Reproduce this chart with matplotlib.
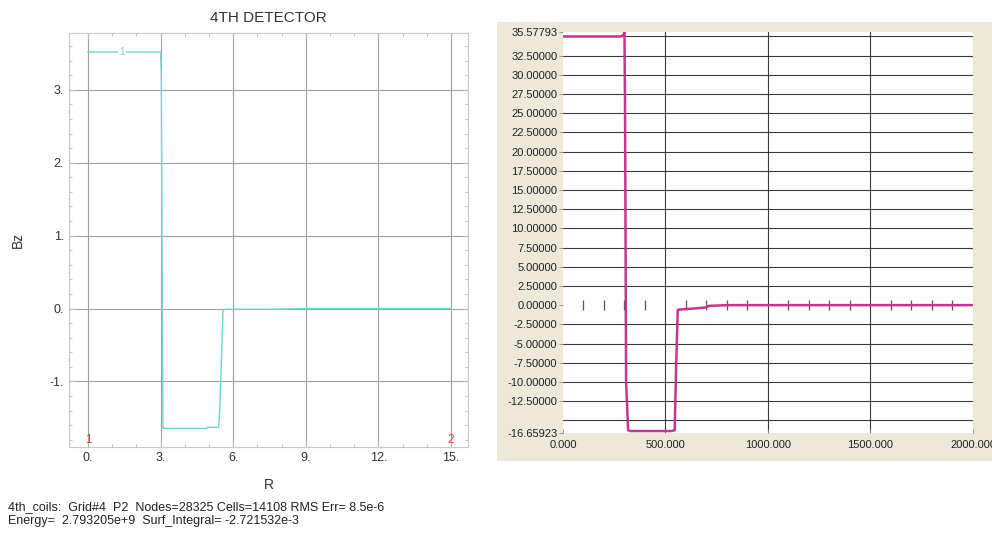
import matplotlib
matplotlib.use("Agg")
import matplotlib.pyplot as plt
from matplotlib.patches import Rectangle
import numpy as np

plt.rcParams['font.family'] = ['Liberation Sans', 'DejaVu Sans']

# left panel: Bz along R (FlexPDE elevation plot)
r_vals = [0.0, 3.0, 3.03, 3.06, 3.1, 3.2, 4.9, 4.95, 5.4, 5.45, 5.58, 5.7, 7.5, 9.0, 15.0]
bz_vals = [3.52, 3.52, 3.2, 1.0, -1.64, -1.645, -1.645, -1.63, -1.63, -1.35, -0.02, -0.01, -0.01, 0.0, 0.0]
left_xticks = [0, 3, 6, 9, 12, 15]
left_yticks = [-1, 0, 1, 2, 3]

# right panel: measured profile
x_vals = [0, 280, 293, 300, 303, 308, 318, 330, 530, 545, 552, 560, 700, 710, 800, 2000]
y_vals = [35.0, 35.0, 35.1, 35.58, 25.0, -10.0, -16.3, -16.4, -16.4, -16.3, -8.0, -0.6, -0.3, -0.1, 0.0, 0.0]
right_ymin = -16.65923
right_ymax = 35.57793
right_yticks = [right_ymin, -12.5, -10.0, -7.5, -5.0, -2.5, 0.0, 2.5, 5.0, 7.5, 10.0,
                12.5, 15.0, 17.5, 20.0, 22.5, 25.0, 27.5, 30.0, 32.5, right_ymax]
right_xticks = [0, 500, 1000, 1500, 2000]

footer1 = "4th_coils:  Grid#4  P2  Nodes=28325 Cells=14108 RMS Err= 8.5e-6"
footer2 = "Energy=  2.793205e+9  Surf_Integral= -2.721532e-3"

fig = plt.figure(figsize=(9.92, 5.34), dpi=100)
fig.patch.set_facecolor('white')

# beige frame behind the right chart
bg = Rectangle((497 / 992, 1 - 461 / 534), 1 - 497 / 992, (461 - 22) / 534,
               transform=fig.transFigure, facecolor='#ece9d8', edgecolor='none', zorder=-5)
fig.add_artist(bg)

# ---- left plot ----
ax1 = fig.add_axes([0.0696, 0.1629, 0.4022, 0.7753])
teal = '#72d6ca'
ax1.plot(r_vals, bz_vals, color=teal, lw=1.0)
ax1.set_xlim(-0.78, 15.7)
ax1.set_ylim(-1.9, 3.78)
ax1.set_xticks(left_xticks)
ax1.set_xticklabels([f"{t}." for t in left_xticks])
ax1.set_yticks(left_yticks)
ax1.set_yticklabels([f"{t}." for t in left_yticks])
ax1.set_xticks(np.arange(0, 16, 1), minor=True)
ax1.set_yticks(np.arange(-1.8, 3.8, 0.2), minor=True)
ax1.grid(True, which='major', color='#a0a0a0', lw=0.8)
ax1.tick_params(which='both', direction='in', top=True, right=True, colors='#b8b8b8',
                labelcolor='#333333', labelsize=9)
ax1.tick_params(which='major', length=4)
ax1.tick_params(which='minor', length=2)
for s in ax1.spines.values():
    s.set_color('#c8c8c8')
    s.set_linewidth(0.8)
ax1.set_title("4TH DETECTOR", fontsize=11, color='#333333', pad=8)
ax1.set_xlabel("R", fontsize=10, color='#333333', labelpad=10)
ax1.set_ylabel("Bz", fontsize=10, color='#333333', labelpad=18)
ax1.text(1.4, bz_vals[0], "1", color=teal, fontsize=7, ha='center', va='center',
         bbox=dict(facecolor='white', edgecolor='none', pad=1))
ax1.text(r_vals[0], -1.8, "1", color='#e04848', fontsize=8.5, ha='center', va='center')
ax1.text(r_vals[-1], -1.8, "2", color='#e04848', fontsize=8.5, ha='center', va='center')

fig.text(0.008, 0.050, footer1, fontsize=9, color='#222222', ha='left', va='center')
fig.text(0.008, 0.024, footer2, fontsize=9, color='#222222', ha='left', va='center')

# ---- right plot ----
ax2 = fig.add_axes([0.5675, 0.1891, 0.4133, 0.7509])
ax2.set_facecolor('white')
ax2.set_xlim(0, 2000)
ax2.set_ylim(right_ymin, right_ymax)
for gy in np.arange(-15, 35.1, 2.5):
    if gy != 0:
        ax2.axhline(gy, color='#3a3a3a', lw=0.8, zorder=1)
for gx in right_xticks[1:-1]:
    ax2.axvline(gx, color='#3a3a3a', lw=0.8, zorder=1)
# small ticks along the zero line
zero_ticks = [t for t in range(100, 2000, 100) if t % 500 != 0]
ax2.plot(zero_ticks, np.zeros(len(zero_ticks)), ls='none', marker='|', ms=7,
         mew=0.9, color='#555555', zorder=2)
ax2.plot(x_vals, y_vals, color='#c8358e', lw=1.8, zorder=3)
ax2.set_yticks(right_yticks)
ax2.set_yticklabels([f"{v:.5f}" for v in right_yticks])
ax2.set_xticks(right_xticks)
ax2.set_xticklabels([f"{v:.3f}" for v in right_xticks])
ax2.tick_params(axis='y', length=3, width=0.6, colors='#888888', labelcolor='#222222',
                labelsize=8, pad=1)
ax2.tick_params(axis='x', length=3, width=0.6, direction='in', colors='#888888',
                labelcolor='#222222', labelsize=8, pad=5)
for s in ax2.spines.values():
    s.set_visible(False)

fig.savefig("out.png", dpi=100)
